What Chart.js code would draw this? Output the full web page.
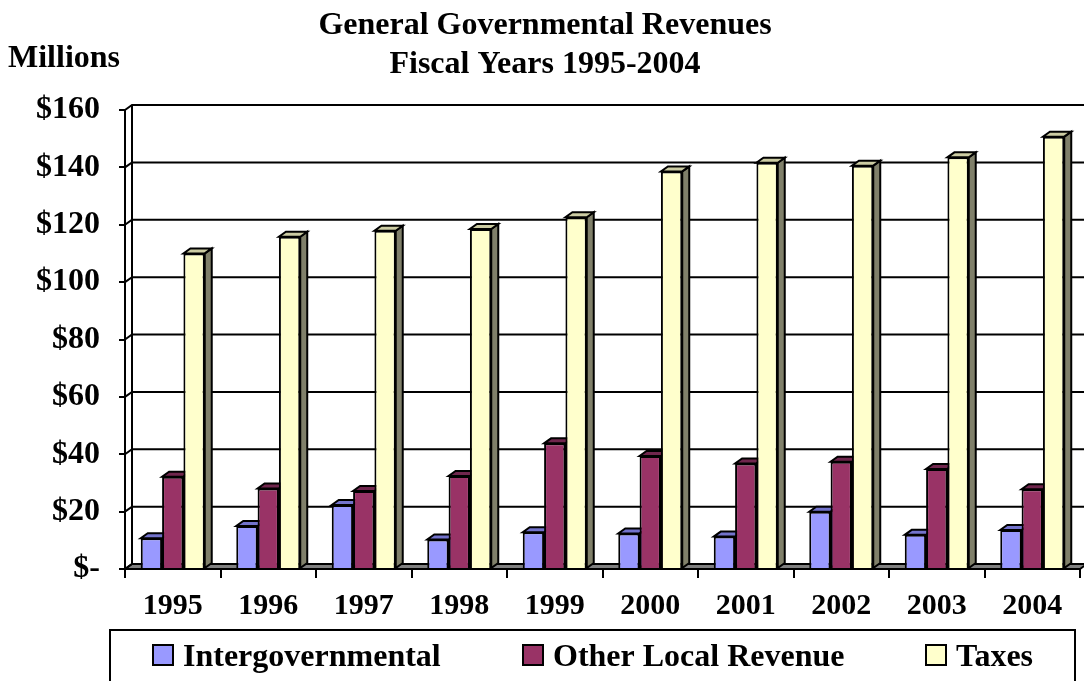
<!DOCTYPE html>
<html>
<head>
<meta charset="utf-8">
<script src="https://cdn.jsdelivr.net/npm/chart.js@4/dist/chart.umd.min.js"></script>
<style>
  html, body { margin: 0; padding: 0; background: #fff; }
  #c { display: block; }
</style>
</head>
<body>
<canvas id="c" width="1084" height="681"></canvas>
<script>
// ---- data ----
const years = ['1995','1996','1997','1998','1999','2000','2001','2002','2003','2004'];
const intergovernmental = [10.7, 15.0, 22.3, 10.3, 12.8, 12.4, 11.3, 20.0, 11.9, 13.6];
const otherLocalRevenue = [32.2, 28.1, 27.2, 32.4, 43.8, 39.4, 36.8, 37.4, 34.9, 27.8];
const taxes = [110.0, 115.8, 117.9, 118.5, 122.6, 138.6, 141.6, 140.6, 143.5, 150.7];
const seriesNames = ['Intergovernmental', 'Other Local Revenue', 'Taxes'];
const yTickValues = [0, 20, 40, 60, 80, 100, 120, 140, 160];
const titleLines = ['General Governmental Revenues', 'Fiscal Years 1995-2004'];
const unitLabel = 'Millions';

const FONT = '"Liberation Serif", "Times New Roman", Times, serif';
const DX = 7, DY = 5;
const frontColors = ['#9999FF', '#993366', '#FFFFCC'];
const topColors = ['#7373CC', '#70264D', '#CCCCA3'];
const sideColors = ['#5C5C99', '#4D1A33', '#80806A'];

function poly(ctx, pts, fill) {
  ctx.beginPath();
  ctx.moveTo(pts[0][0], pts[0][1]);
  for (let i = 1; i < pts.length; i++) ctx.lineTo(pts[i][0], pts[i][1]);
  ctx.closePath();
  if (fill) { ctx.fillStyle = fill; ctx.fill(); }
  ctx.stroke();
}

const threeD = {
  id: 'threeD',
  beforeDatasetsDraw(chart) {
    const ctx = chart.ctx;
    const ys = chart.scales.y;
    const L = chart.chartArea.left, R = chart.chartArea.right;
    const B = ys.getPixelForValue(0);
    ctx.save();
    ctx.strokeStyle = '#000';
    ctx.lineWidth = 2;
    ctx.lineJoin = 'miter';
    // floor
    poly(ctx, [[L, B], [R, B], [R + DX, B - DY], [L + DX, B - DY]], '#808080');
    // back wall gridlines + left wall diagonals
    yTickValues.forEach(v => {
      const y = ys.getPixelForValue(v);
      ctx.beginPath();
      ctx.moveTo(L, y);
      ctx.lineTo(L + DX, y - DY);
      if (v > 0) ctx.lineTo(chart.width + 5, y - DY);
      ctx.stroke();
    });
    // back wall left edge
    ctx.beginPath();
    ctx.moveTo(L + DX, ys.getPixelForValue(160) - DY);
    ctx.lineTo(L + DX, B - DY);
    ctx.stroke();
    // bar depth faces
    chart.data.datasets.forEach((ds, di) => {
      const meta = chart.getDatasetMeta(di);
      meta.data.forEach(bar => {
        const l = bar.x - bar.width / 2, r = bar.x + bar.width / 2;
        const t = bar.y, b = bar.base;
        poly(ctx, [[r, b], [r, t], [r + DX, t - DY], [r + DX, b - DY]], sideColors[di]);
        poly(ctx, [[l, t], [r, t], [r + DX, t - DY], [l + DX, t - DY]], topColors[di]);
      });
    });
    ctx.restore();
  },
  afterDraw(chart) {
    const ctx = chart.ctx;
    ctx.save();
    ctx.fillStyle = '#000';
    ctx.font = 'bold 32px ' + FONT;
    ctx.textBaseline = 'alphabetic';
    ctx.textAlign = 'left';
    ctx.fillText(unitLabel, 8, 67);
    // legend
    ctx.strokeStyle = '#000';
    ctx.lineWidth = 2;
    ctx.strokeRect(110, 630, 965, 70);
    const sx = [153, 523, 926];
    chart.data.datasets.forEach((ds, i) => {
      ctx.fillStyle = ds.backgroundColor;
      ctx.fillRect(sx[i], 645, 20, 20);
      ctx.strokeRect(sx[i], 645, 20, 20);
      ctx.fillStyle = '#000';
      ctx.fillText(ds.label, sx[i] + 30, 666);
    });
    ctx.restore();
  }
};

new Chart(document.getElementById('c'), {
  type: 'bar',
  data: {
    labels: years,
    datasets: [
      { label: seriesNames[0], data: intergovernmental, backgroundColor: frontColors[0] },
      { label: seriesNames[1], data: otherLocalRevenue, backgroundColor: frontColors[1] },
      { label: seriesNames[2], data: taxes, backgroundColor: frontColors[2] }
    ]
  },
  options: {
    responsive: false,
    animation: false,
    devicePixelRatio: 1,
    layout: { padding: { left: 10, right: 4, top: 0, bottom: 0 } },
    datasets: {
      bar: {
        borderColor: '#000',
        borderWidth: 2,
        categoryPercentage: 0.67,
        barPercentage: 1.0
      }
    },
    plugins: {
      legend: { display: false },
      tooltip: { enabled: false },
      title: {
        display: true,
        text: titleLines,
        color: '#000',
        font: { family: FONT, size: 32, weight: 'bold', lineHeight: 1.2 },
        padding: { top: 7, bottom: 26.2 }
      }
    },
    scales: {
      x: {
        grid: { offset: true, drawOnChartArea: false, drawTicks: true, tickLength: 9, color: '#000', lineWidth: 2 },
        border: { display: true, color: '#000', width: 2 },
        ticks: { color: '#000', padding: 10, font: { family: FONT, size: 30, weight: 'bold' }, maxRotation: 0 },
        afterFit: s => { s.height = 112; }
      },
      y: {
        min: 0,
        max: 160,
        afterBuildTicks: s => { s.ticks = yTickValues.map(v => ({ value: v })); },
        grid: { drawOnChartArea: false, drawTicks: true, tickLength: 6, color: '#000', lineWidth: 2 },
        border: { display: true, color: '#000', width: 2 },
        ticks: {
          color: '#000',
          padding: 19,
          font: { family: FONT, size: 32, weight: 'bold' },
          callback: v => v === 0 ? '$-' : '$' + v
        },
        afterFit: s => { s.width = 115; }
      }
    }
  },
  plugins: [threeD]
});
</script>
</body>
</html>
